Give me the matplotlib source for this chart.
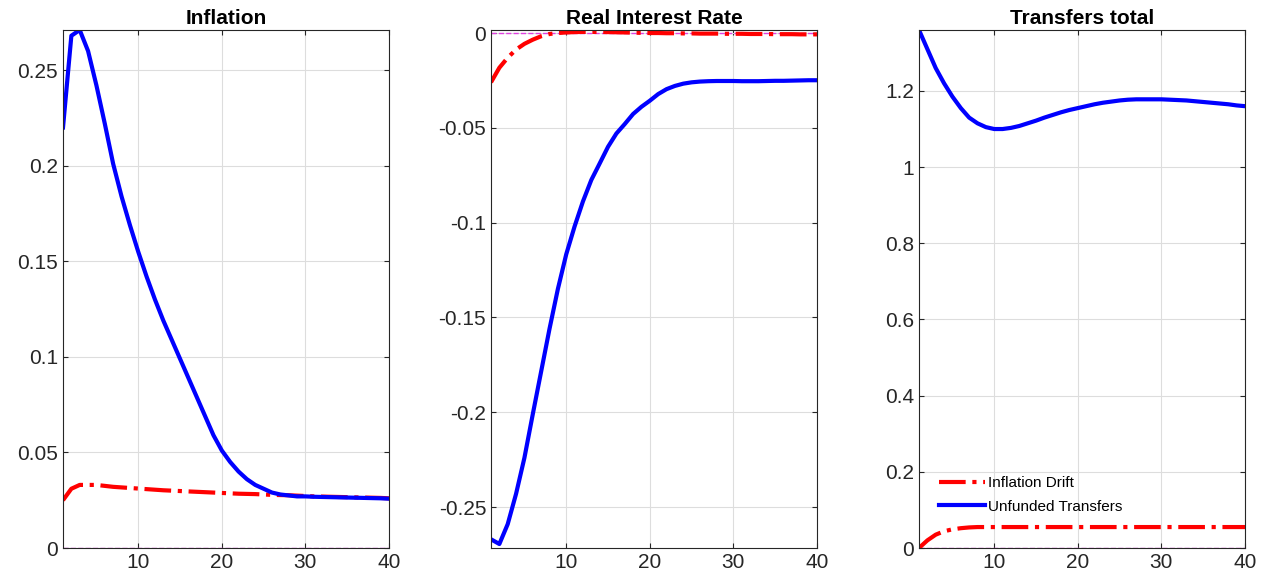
import matplotlib
matplotlib.use("Agg")
import matplotlib.pyplot as plt
import numpy as np

plt.rcParams['font.family'] = ['Liberation Sans', 'DejaVu Sans']

t = np.arange(1, 41)

infl_unf = [0.22, 0.268, 0.271, 0.26, 0.242, 0.222, 0.201, 0.184, 0.169, 0.155,
            0.142, 0.130, 0.119, 0.109, 0.099, 0.089, 0.079, 0.069, 0.059, 0.051,
            0.045, 0.040, 0.036, 0.033, 0.031, 0.029, 0.028, 0.0275, 0.027, 0.027,
            0.0268, 0.0267, 0.0266, 0.0265, 0.0264, 0.0263, 0.0262, 0.0261, 0.026, 0.0258]
infl_drift = [0.025, 0.031, 0.033, 0.033, 0.033, 0.0325, 0.032, 0.0317, 0.0314, 0.0311,
              0.0308, 0.0305, 0.0302, 0.03, 0.0298, 0.0296, 0.0294, 0.0292, 0.029, 0.0288,
              0.0286, 0.0284, 0.0283, 0.0282, 0.028, 0.0278, 0.0277, 0.0276, 0.0274, 0.0272,
              0.027, 0.0269, 0.0268, 0.0267, 0.0266, 0.0265, 0.0264, 0.0263, 0.0262, 0.026]

rr_unf = [-0.267, -0.2695, -0.259, -0.243, -0.224, -0.201, -0.1785, -0.156, -0.135, -0.1167,
          -0.102, -0.0888, -0.0775, -0.0688, -0.060, -0.053, -0.048, -0.0427, -0.0389, -0.0357,
          -0.0322, -0.0296, -0.0279, -0.0267, -0.026, -0.0256, -0.0254, -0.0253, -0.0253, -0.0253,
          -0.0254, -0.0254, -0.0254, -0.0253, -0.0252, -0.0252, -0.0251, -0.025, -0.0249, -0.0249]
rr_drift = [-0.026, -0.0183, -0.013, -0.0087, -0.0057, -0.0035, -0.0017, -0.0005, 0.0, 0.0003,
            0.0005, 0.0006, 0.0006, 0.0006, 0.0005, 0.0004, 0.0003, 0.0002, 0.0001, 0.0,
            0.0, -0.0001, -0.0001, -0.0002, -0.0002, -0.0003, -0.0003, -0.0003, -0.0004, -0.0004,
            -0.0004, -0.0005, -0.0005, -0.0005, -0.0006, -0.0006, -0.0006, -0.0007, -0.0007, -0.0007]

tr_unf = [1.36, 1.31, 1.26, 1.22, 1.185, 1.155, 1.13, 1.115, 1.105, 1.10,
          1.10, 1.103, 1.108, 1.115, 1.122, 1.13, 1.137, 1.144, 1.15, 1.155,
          1.16, 1.165, 1.169, 1.172, 1.175, 1.177, 1.178, 1.178, 1.178, 1.178,
          1.177, 1.176, 1.175, 1.173, 1.171, 1.169, 1.167, 1.165, 1.162, 1.16]
tr_drift = [0.0, 0.02, 0.035, 0.044, 0.049, 0.052, 0.054, 0.055] + [0.055] * 32

titles = ['Inflation', 'Real Interest Rate', 'Transfers total']
drift = [infl_drift, rr_drift, tr_drift]
unf = [infl_unf, rr_unf, tr_unf]
ylims = [(0, 0.271), (-0.2716, 0.0016), (0, 1.36)]
yticks = [[0, 0.05, 0.1, 0.15, 0.2, 0.25],
          [-0.25, -0.2, -0.15, -0.1, -0.05, 0],
          [0, 0.2, 0.4, 0.6, 0.8, 1, 1.2]]
lefts = [63, 491, 919]

fig = plt.figure(figsize=(12.7, 5.86), dpi=100)
for i in range(3):
    ax = fig.add_axes([lefts[i] / 1270, 38 / 586, 326 / 1270, 518 / 586])
    ax.plot(t, np.zeros(40), '--', color='#e040e0', lw=1)
    ax.plot(t, drift[i], '-.', color='red', lw=3, label='Inflation Drift')
    ax.plot(t, unf[i], '-', color='blue', lw=3, label='Unfunded Transfers')
    ax.set_xlim(1, 40)
    ax.set_ylim(*ylims[i])
    ax.set_xticks([10, 20, 30, 40])
    ax.set_yticks(yticks[i])
    ax.set_yticklabels(['%g' % v for v in yticks[i]])
    ax.grid(True, color='#dddddd', lw=0.8)
    ax.tick_params(direction='in', labelsize=15, top=True, right=True, colors='#262626')
    ax.set_title(titles[i], fontsize=15, fontweight='bold', pad=4)
    for s in ax.spines.values():
        s.set_color('#262626')
    if i == 2:
        ax.legend(loc='lower left', bbox_to_anchor=(0.02, 0.04), frameon=False,
                  fontsize=11, handlelength=3, handletextpad=0.2, labelspacing=0.6)

fig.savefig('out.png')
